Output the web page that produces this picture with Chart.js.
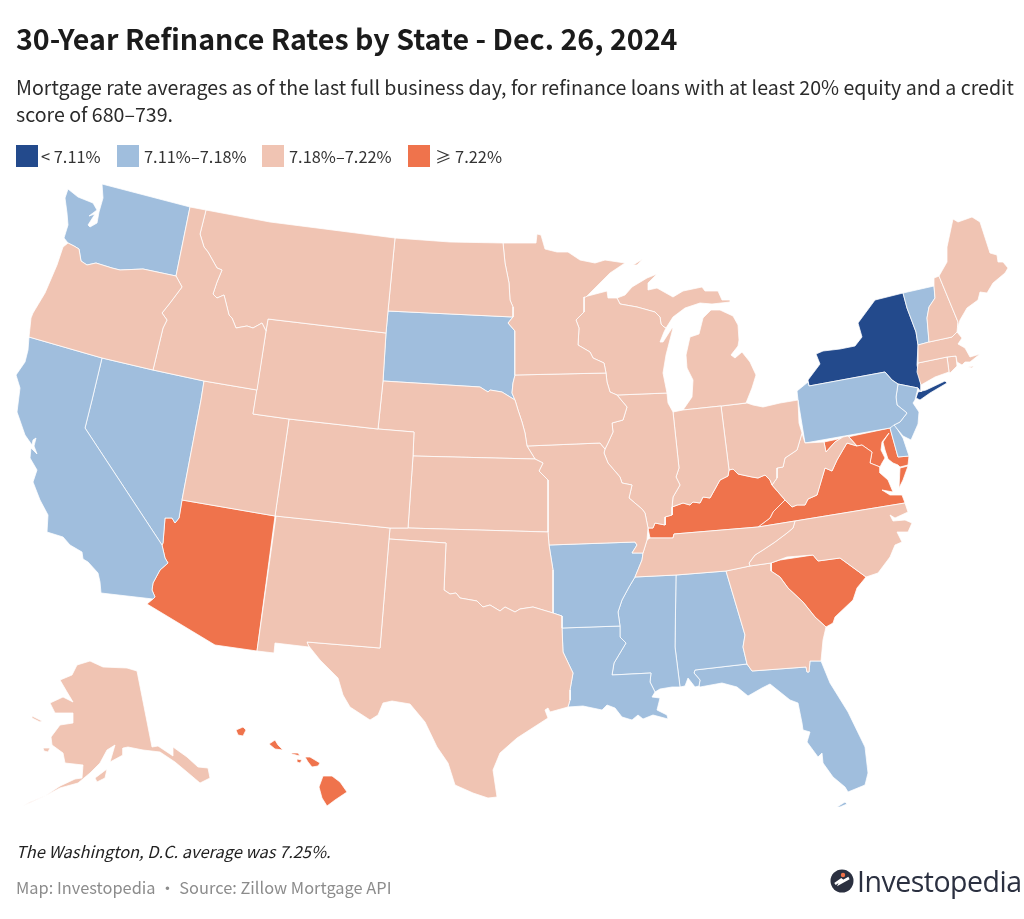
<!DOCTYPE html>
<html><head><meta charset="utf-8">
<script src="https://cdn.jsdelivr.net/npm/chart.js@4"></script>
<style>
html,body{margin:0;padding:0;background:#fff}
body{width:1024px;height:919px;position:relative;overflow:hidden;font-family:"Noto Sans CJK SC","Noto Sans",sans-serif}
canvas{position:absolute;left:0;top:0}
.t{position:absolute;white-space:nowrap}
#title{left:16px;top:18px;font-size:28.6px;line-height:40px;font-weight:700;color:#1b1b1b}
#sub{left:16px;top:73px;font-size:19.6px;line-height:27px;color:#2b2b2b}
.sw{position:absolute;top:145px;width:22px;height:22px}
.lg{top:144px;font-size:16.4px;line-height:24px;color:#333}
#note{left:16px;top:839px;font-size:16.4px;line-height:24px;font-style:italic;color:#222}
#src{left:16px;top:875px;font-size:16.4px;line-height:24px;color:#8c8c8c}
#logo{left:857px;top:861px;font-family:"Open Sans",sans-serif;font-size:28.5px;line-height:40px;color:#2b3040;letter-spacing:-.5px}
svg{position:absolute}
</style></head><body>
<canvas id="c" width="1024" height="919"></canvas>
<div class="t" id="title"></div>
<div class="t" id="sub"></div>
<div id="legend"></div>
<div class="t" id="note"></div>
<div class="t" id="src"></div>
<svg style="left:830px;top:869px" width="24" height="24" viewBox="0 0 24 24"><circle cx="12" cy="12" r="11.5" fill="#2b3040"/><path d="M5 15 L12 10 L10 14 L19 9" stroke="#fff" stroke-width="2.6" fill="none"/><circle cx="13" cy="6" r="2.2" fill="#ef734c"/></svg>
<div class="t" id="logo"></div>
<script>
const titleText = "30-Year Refinance Rates by State - Dec. 26, 2024";
const subtitleLines = ["Mortgage rate averages as of the last full business day, for refinance loans with at least 20% equity and a credit","score of 680\u2013739."];
const bins = ["< 7.11%","7.11%\u20137.18%","7.18%\u20137.22%","\u2265 7.22%"];
const binColors = ["#234a8c","#a0bedd","#f0c4b3","#ef734c"];
const binLeft = [16,117,262,408];
const noteText = "The Washington, D.C. average was 7.25%.";
const sourceText = "Map: Investopedia \u2022 Source: Zillow Mortgage API";
const logoText = "Investopedia";

const statesInBin0 = ["NY"];
const statesInBin1 = ["WA","CA","NV","SD","AR","LA","MS","AL","FL","PA","NJ","DE","VT"];
const statesInBin2 = ["OR","ID","MT","WY","UT","CO","NM","TX","OK","KS","NE","ND","MN","IA","MO","WI","IL","IN","MI","OH","WV","TN","NC","GA","ME","NH","MA","CT","RI","AK"];
const statesInBin3 = ["AZ","KY","VA","MD","SC","HI"];

// shared borders in map units
const WA_OR=[[176,276],[143,269],[120,270],[112,268],[96,263],[87,265],[81,261],[79,249],[74,246],[68,243]];
const ID_MT=[[206,210],[200,234],[204,247],[208,252],[217,268],[222,270],[217,282],[213,294],[217,298],[224,295],[229,315],[232,318],[236,328],[247,326],[253,328],[262,323],[266,331]];
const OR_ID=[[153,370],[163,328],[167,320],[162,313],[170,303],[182,287],[176,276]];
const CA_AZ=[[162,545],[165,558],[168,563],[160,570],[153,583],[152,590],[155,597],[153,599]];
const NV_AZ=[[182,500],[179,518],[175,523],[172,518],[165,518],[163,543],[162,545]];
const ND_MN=[[503,243],[505,263],[509,283],[510,300],[513,307],[513,317]];
const SD_MN=[[513,317],[508,323],[515,331],[515,375]];
const SD_IA=[[515,375],[513,383],[512,393],[515,400]];
const SD_NE=[[383,381],[480,387],[488,392],[490,390],[502,392],[515,400]];
const NE_IA=[[515,400],[518,410],[522,422],[525,433],[527,446]];
const NE_MO=[[527,446],[535,459]];
const KS_MO=[[535,459],[543,463],[539,471],[548,480],[548,532]];
const OK_TX=[[444,590],[450,594],[456,593],[460,598],[477,601],[483,607],[490,605],[500,611],[505,607],[515,612],[520,609],[533,607],[543,610],[553,613]];
const AR_TX=[[553,613],[562,616],[562,628]];
const TX_LA=[[562,628],[563,652],[573,673],[570,690],[570,700],[568,707]];
const AR_MS=[[635,577],[629,587],[622,600],[618,612],[620,626]];
const MS_LA=[[620,626],[620,637],[626,643],[614,663],[612,675],[651,673],[650,682],[655,692]];
const MN_WI=[[584,297],[584,312],[576,320],[579,328],[578,345],[590,352],[593,358],[604,363],[606,373]];
const IA_WI=[[606,373],[607,382],[610,392],[617,395]];
const IA_IL=[[617,395],[627,407],[623,420],[612,423],[613,432],[608,443],[605,449]];
const MO_IL=[[605,449],[604,453],[608,463],[620,477],[622,483],[632,485],[629,498],[642,509],[645,513],[648,528]];
const WI_MI=[[617,298],[620,304],[637,307],[655,312],[660,317],[661,324],[664,327],[666,328]];
const IL_IN=[[673,412],[679,468],[676,477],[680,485],[673,497],[672,507]];
const IN_KY=[[729,470],[728,476],[720,480],[710,498],[703,497],[700,503],[693,502],[690,505],[683,503],[672,507]];
const IL_KY=[[672,507],[672,515],[665,517],[665,525],[655,523],[653,528],[648,528]];
const KY_OH=[[772,485],[770,480],[765,475],[758,478],[752,477],[738,474],[733,469],[729,470]];
const OH_WV=[[802,433],[797,450],[785,458],[783,467],[777,468],[777,478],[772,485]];
const KY_WV=[[772,485],[785,500]];
const KY_VA=[[785,500],[773,512],[770,518],[758,527]];
const KY_TN=[[650,538],[673,538],[674,534],[758,527]];
const TN_VA=[[758,527],[795,521]];
const TN_NC=[[795,521],[793,528],[787,533],[775,542],[763,550],[755,555],[749,563],[750,566]];
const TN_GA=[[750,566],[726,571]];
const NC_GA=[[750,566],[771,563]];
const WV_VA=[[785,500],[792,507],[797,505],[805,505],[808,499],[817,495],[825,468],[832,471],[837,460],[844,448],[847,443],[857,446]];
const MD_VA=[[857,446],[862,445],[872,452],[870,463],[880,467]];
const WV_MD=[[824,442],[826,452],[835,442],[843,437],[848,436],[857,446]];
const GA_SC=[[771,563],[771,571],[780,577],[788,588],[803,602],[815,617],[826,627]];
const NY_PA=[[809,386],[885,372],[892,380],[898,384]];
const PA_NJ=[[898,384],[896,397],[897,405],[907,413],[900,422],[894,425]];
const MA_NH=[[929,342],[952,337],[957,332]];
const VT_NH=[[934,286],[935,298],[929,307],[927,318],[929,342]];
const NY_VT=[[903,293],[907,308],[916,332],[918,345]];

const WA=[[[102,184],[190,207],...WA_OR,[64,238],[68,225],[67,213],[65,198],[68,189],[78,197],[93,203],[97,210],[89,216],[95,214],[88,225],[90,227],[97,223],[99,212],[103,198]]];
const OR=[[...WA_OR,[63,247],[57,265],[45,293],[33,313],[31,318],[29,337],[102,358],...OR_ID]];
const ID=[[[190,207],...ID_MT,[257,390],[204,381],...OR_ID]];
const MT=[[[206,210],[270,222],[317,228],[395,238],[388,311],[386,333],[268,319],...[...ID_MT].reverse()]];
const WY=[[[268,319],[386,333],[383,381],[378,429],[289,419],[253,414],[266,331]]];
const UT=[[[204,381],[257,390],[253,414],[289,419],[275,516],[182,500],[201,400]]];
const NV=[[[102,358],[153,370],[204,381],[201,400],...NV_AZ,[85,428],[92,400]]];
const CA=[[[29,337],[102,358],[92,400],[85,428],...CA_AZ,[101,593],[100,582],[98,573],[88,562],[83,559],[82,552],[70,545],[63,537],[47,532],[48,515],[40,500],[33,482],[37,470],[30,458],[31,448],[37,454],[34,446],[36,438],[33,440],[32,445],[25,435],[17,412],[20,388],[16,375],[25,362],[28,350]]];
const AZ=[[[182,500],[275,516],[257,651],[215,645],[147,604],...[...CA_AZ].reverse(),...[...NV_AZ].reverse()]];
const CO=[[[289,419],[378,429],[414,432],[413,456],[408,528],[390,528],[275,516]]];
const NM=[[[276,516],[390,528],[389,539],[380,648],[307,642],[309,647],[275,643],[274,653],[257,651]]];
const ND=[[[395,238],[450,242],...ND_MN,[388,311]]];
const SD=[[[388,311],...SD_MN,...SD_IA,...[...SD_NE].reverse(),[386,333]]];
const NE=[[...SD_NE,...NE_IA,...NE_MO,[413,456],[414,432],[378,429]]];
const KS=[[[413,456],...NE_MO.slice(1),...KS_MO.slice(1),[408,528]]];
const OK=[[[390,528],[408,528],[548,532],[549,545],[553,570],[553,613],...[...OK_TX].reverse(),[446,543],[389,539]]];
const TX=[[[389,539],[446,543],...OK_TX,...AR_TX,...TX_LA,[550,712],[548,708],[545,710],[548,718],[517,738],[500,753],[493,770],[497,797],[488,798],[473,793],[455,785],[448,763],[437,747],[425,722],[410,704],[392,701],[383,703],[378,715],[370,720],[350,707],[343,695],[338,678],[320,660],[308,645],[307,642],[380,648]]];
const MN=[[[503,243],[536,243],[537,234],[541,235],[545,249],[557,252],[568,252],[580,260],[595,263],[605,260],[625,263],[610,273],[586,297],...MN_WI,...[...SD_MN].reverse(),...[...ND_MN].reverse()]];
const IA=[[[515,375],...IA_WI.length?[[606,373]]:[],...IA_WI.slice(1),...IA_IL.slice(1),[600,443],[527,446],...[...NE_IA].reverse(),...[...SD_IA].reverse()]];
const MO=[[[527,446],[600,443],...MO_IL,[647,540],[643,553],[632,553],[637,545],[635,542],[549,545],[548,532],...[...KS_MO].reverse()]];
const WI=[[[584,297],[607,291],[608,298],...WI_MI,[664,332],[660,342],[663,342],[672,328],[673,328],[666,355],[663,373],[667,393],[617,395],...[...IA_WI].reverse(),...[...MN_WI].reverse()]];
const IL=[[[617,395],[667,393],[668,403],...IL_IN,...IL_KY,...[...MO_IL].reverse(),...[...IA_IL].reverse()]];
const IN=[[[673,412],[683,410],[721,406],[729,470],...IN_KY,...[...IL_IN].reverse()]];
const OH=[[[721,406],[747,403],[753,405],[763,407],[780,403],[798,400],[799,423],...OH_WV,...KY_OH]];
const MI=[[[683,410],[692,397],[693,380],[687,368],[686,355],[690,337],[699,334],[703,318],[711,310],[720,310],[733,316],[738,325],[739,340],[738,346],[731,355],[735,358],[742,352],[750,362],[756,375],[752,388],[746,403],[721,406]],
          [...WI_MI,[673,317],[685,308],[700,303],[712,304],[730,302],[730,300],[722,300],[718,291],[705,291],[702,287],[683,291],[673,297],[657,288],[648,290],[648,283],[657,274],[647,278],[632,287],[625,295]],
          [[633,265],[643,259],[637,265]]];
const AR=[[[549,545],[635,542],[637,545],[632,553],[643,553],[642,560],...AR_MS,[562,628],[562,616],[553,613],[553,570]]];
const LA=[[...TX_LA,[583,706],[602,710],[607,705],[615,708],[622,717],[632,720],[638,715],[643,719],[653,715],[668,719],[667,715],[657,710],[660,698],[652,697],...[...MS_LA].reverse()]];
const MS=[[[635,577],[676,575],[675,647],[680,687],[672,687],[660,689],...[...MS_LA].reverse(),...[...AR_MS].reverse()]];
const AL=[[[676,575],[726,571],[745,635],[743,647],[747,664],[695,670],[694,673],[700,680],[699,686],[695,687],[688,678],[685,686],[680,687],[675,647]]];
const GA=[[...TN_GA.slice().reverse(),...NC_GA.slice(1),...GA_SC.slice(1),[823,640],[821,661],[810,661],[809,672],[807,672],[806,667],[752,671],[747,664],[743,647],[745,635]]];
const FL=[[[695,670],[747,664],[752,671],[806,667],[807,672],[809,672],[810,661],[821,661],[830,683],[848,712],[865,747],[868,773],[865,785],[848,792],[845,787],[833,777],[823,763],[822,753],[818,757],[807,742],[810,732],[803,730],[802,723],[798,703],[790,700],[770,684],[762,688],[748,696],[737,687],[722,683],[700,687],[699,686],[700,680],[694,673]],
          [[837,807],[845,802],[847,804],[840,807]]];
const SC=[[...GA_SC,[833,623],[835,617],[853,600],[857,588],[866,577],[840,558],[818,561],[813,555],[780,560]]];
const NC=[[...TN_VA.slice(1),[905,503],[908,512],[895,518],[890,515],[893,521],[905,520],[912,523],[908,532],[897,532],[902,542],[895,545],[890,557],[878,573],[866,577],[840,558],[818,561],[813,555],[787,557],[771,563],[750,566],...[...TN_NC].reverse()]];
const TN=[[[647,540],[650,538],...KY_TN.slice(1),...TN_VA.slice(1),...TN_NC.slice(1),[726,571],[676,575],[635,577],[642,560],[643,553]]];
const KY=[[...KY_TN,...[...KY_VA].reverse(),...[...KY_WV].reverse(),...KY_OH,...IN_KY.slice(1),...IL_KY.slice(1)]];
const VA=[[...WV_VA,...MD_VA.slice(1),[880,473],[888,480],[893,492],[882,490],[890,495],[902,495],[905,503],[795,521],[758,527],...KY_VA.slice(0,-1).reverse().slice(0)]],
      VA_SHORE=[[900,468],[908,466],[903,480],[899,488]];
VA.push(VA_SHORE);
const WV=[[[799,423],[802,433],[805,443],...WV_MD,[847,443],[844,448],[837,460],[832,471],[825,468],[817,495],[808,499],[805,505],[797,505],[792,507],[785,500],[772,485],...[...OH_WV].reverse().slice(1)]];
const MD=[[...WV_MD,...MD_VA.slice(1),[882,463],[885,458],[881,450],[882,442],[889,433],[883,442],[885,450],[888,459],[893,463],[898,465],[900,467],[908,465],[909,456],[898,457],[890,428]]];
const DE=[[[890,428],[894,424],[903,438],[909,456],[898,457]]];
const PA=[[[797,391],[808,382],...NY_PA,...PA_NJ.slice(1),[890,428],[805,443],[798,400]]];
const NJ=[[[898,384],[918,388],[915,400],[913,403],[919,412],[918,424],[911,440],[903,436],...[...PA_NJ].reverse().slice(0,-1)]];
const NY=[[[808,380],[820,364],[816,354],[823,351],[840,349],[855,346],[862,337],[858,323],[875,300],[903,293],...NY_VT.slice(1),[917,365],[921,385],[921,392],[918,388],[898,384],...[...NY_PA].reverse().slice(1)],
          [[916,398],[918,392],[926,390],[945,381],[947,383],[930,393],[920,400]]];
const VT=[[[903,293],[934,286],...VT_NH.slice(1),[918,345],...[...NY_VT].reverse().slice(1)]];
const NH=[[[934,278],[939,276],[958,322],[957,332],[952,337],[929,342],...[...VT_NH].reverse().slice(1)]];
const ME=[[[939,276],[947,262],[947,247],[953,219],[958,222],[972,217],[980,222],[990,253],[997,255],[998,262],[1003,262],[1008,268],[1005,273],[993,283],[987,293],[980,292],[978,300],[967,308],[960,320],[958,327],[958,322]]];
const MA=[[...MA_NH,[962,338],[958,344],[965,348],[970,357],[980,354],[970,362],[965,362],[962,365],[957,362],[956,356],[947,357],[918,363],[918,345]],[[968,367],[974,366],[972,368]]];
const CT=[[[918,363],[947,357],[949,372],[935,377],[921,385],[917,372]]];
const RI=[[[947,357],[956,356],[957,366],[950,373],[949,372]]];
const AK=[[[137,671],[152,747],[158,746],[173,756],[173,747],[187,757],[198,767],[208,768],[210,778],[200,783],[187,772],[175,762],[160,752],[143,750],[128,747],[123,748],[123,755],[110,762],[115,745],[107,750],[100,763],[90,773],[78,783],[60,788],[47,795],[30,802],[23,806],[45,796],[60,786],[75,779],[82,778],[83,765],[65,763],[63,753],[52,745],[51,737],[60,725],[73,723],[73,713],[55,713],[50,703],[63,697],[73,702],[67,692],[60,680],[72,675],[77,665],[90,661],[103,667],[127,668]],
          [[95,778],[107,769],[105,778],[97,782]],[[32,716],[42,721],[40,722],[32,718]],[[43,748],[50,748],[48,752],[44,751]]];
const HI=[[[236,730],[243,727],[246,730],[243,736],[238,735]],[[269,744],[275,740],[278,745],[283,750],[275,749]],[[291,753],[298,753],[300,756],[292,754]],[[297,759],[302,760],[300,763],[297,762]],[[305,757],[310,757],[320,763],[318,766],[312,767],[308,762]],[[323,776],[332,776],[340,782],[347,792],[335,800],[327,806],[322,798],[319,787]]];

const shapes={WA,OR,ID,MT,WY,UT,NV,CA,AZ,CO,NM,ND,SD,NE,KS,OK,TX,MN,IA,MO,WI,IL,IN,OH,MI,AR,LA,MS,AL,GA,FL,SC,NC,TN,KY,VA,WV,MD,DE,PA,NJ,NY,VT,NH,ME,MA,CT,RI,AK,HI};
const binStates=[statesInBin0,statesInBin1,statesInBin2,statesInBin3];
const datasets=[];
[2,1,3,0].forEach(b=>binStates[b].forEach(s=>shapes[s].forEach(ring=>datasets.push({
  label:s,data:[...ring,ring[0]].map(p=>({x:p[0],y:p[1]})),showLine:true,fill:'shape',
  backgroundColor:binColors[b],borderColor:'rgba(255,255,255,.85)',borderWidth:.9,
  pointRadius:0,tension:0,borderJoinStyle:'round'
}))));

new Chart(document.getElementById('c'),{type:'scatter',data:{datasets},options:{
  responsive:false,animation:false,events:[],layout:{padding:0},
  plugins:{legend:{display:false},title:{display:false},tooltip:{enabled:false}},
  scales:{x:{type:'linear',min:0,max:1024,display:false},y:{type:'linear',min:0,max:919,reverse:true,display:false}}
}});

document.getElementById('title').textContent=titleText;
document.getElementById('sub').innerHTML=subtitleLines.join('<br>');
document.getElementById('note').textContent=noteText;
document.getElementById('src').textContent=sourceText;
document.getElementById('logo').textContent=logoText;
const lg=document.getElementById('legend');
bins.forEach((b,i)=>{
  const s=document.createElement('div');s.className='sw';s.style.left=binLeft[i]+'px';s.style.background=binColors[i];lg.appendChild(s);
  const t=document.createElement('div');t.className='t lg';t.style.left=(binLeft[i]+27-(i==0?2:0))+'px';t.textContent=b;lg.appendChild(t);
});
</script>
</body></html>
